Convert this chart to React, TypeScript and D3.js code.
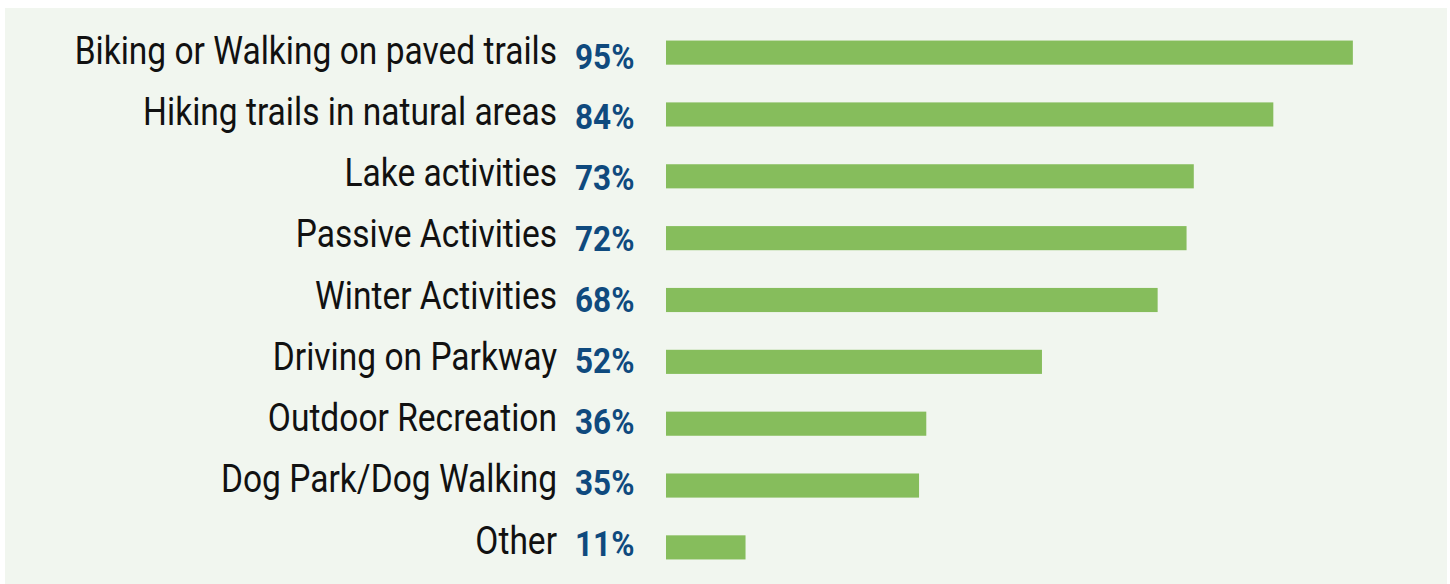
import React from 'react';
import * as d3 from 'd3';

// ==== data

const categories = [
  'Biking or Walking on paved trails',
  'Hiking trails in natural areas',
  'Lake activities',
  'Passive Activities',
  'Winter Activities',
  'Driving on Parkway',
  'Outdoor Recreation',
  'Dog Park/Dog Walking',
  'Other',
];

const values = [95, 84, 73, 72, 68, 52, 36, 35, 11];

// ====

const W = 1450;
const H = 584;

export default function App() {
  const x = d3.scaleLinear().domain([0, 100]).range([666, 1389]);
  const y = d3.scaleBand().domain(categories).range([22, 578]).paddingInner(0.61).paddingOuter(0.3);
  // text baselines drift slightly from the bars in the original
  const labelY = d3.scalePoint().domain(categories).range([63.5, 553.5]);
  const pctY = d3.scalePoint().domain(categories).range([68.5, 556]);

  return (
    <svg width={W} height={H} style={{ position: 'absolute', left: 0, top: 0 }}>
      <rect x={5} y={8} width={1442} height={H - 8} fill="#F1F6EF" />
      {categories.map((c, i) => {
        const yy = y(c) as number;
        return (
          <g key={c}>
            <g transform={`translate(557,${labelY(c)}) scale(0.86,1)`}>
              <text textAnchor="end" fontFamily="Roboto" fontSize={39} fill="#111">
                {c}
              </text>
            </g>
            <g transform={`translate(575,${pctY(c)}) scale(0.9,1)`}>
              <text fontFamily="Roboto" fontWeight="bold" fontSize={35} fill="#0F4A7E">
                {values[i]}%
              </text>
            </g>
            <rect x={x(0)} y={yy} width={x(values[i]) - x(0)} height={y.bandwidth()} fill="#86BD5C" />
          </g>
        );
      })}
    </svg>
  );
}
